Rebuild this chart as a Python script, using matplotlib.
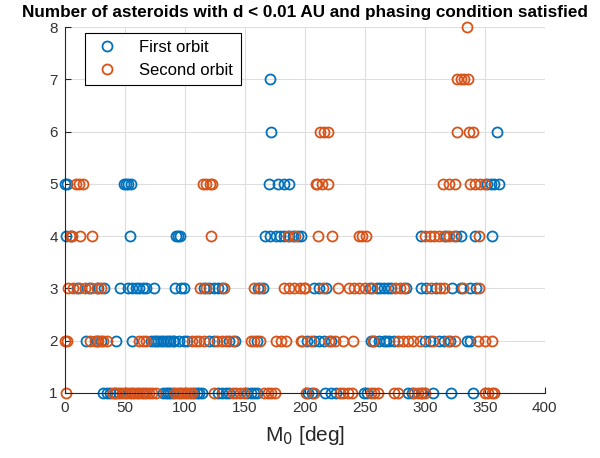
import matplotlib.pyplot as plt
import numpy as np

plt.rcParams['font.family'] = ['Liberation Sans', 'DejaVu Sans']

# M0 values (deg) for each asteroid count, first orbit
first_orbit = {
    1: [32, 35, 38, 42, 45, 82, 84, 86, 88, 90, 108, 110, 112, 114, 128, 131, 134, 137,
        152, 155, 158, 160, 203, 206, 217, 222, 226, 249, 252, 286, 289, 298, 307, 322, 340],
    2: [18, 27, 30, 43, 56, 72, 74, 76, 78, 80, 82, 84, 86, 88, 90, 91, 95, 99, 102,
        120, 124, 137, 142, 160, 202, 208, 212, 216, 222, 255, 258, 262, 266, 268, 270,
        274, 300, 304, 312, 316, 321, 335, 338],
    3: [10, 20, 28, 33, 46, 53, 56, 59, 62, 65, 68, 74, 92, 97, 99, 116, 120, 124, 128,
        131, 161, 165, 208, 212, 218, 254, 260, 263, 266, 269, 272, 284, 297, 301, 309,
        323, 330, 338, 343],
    4: [1, 5, 54, 93, 94, 96, 167, 171, 176, 179, 183, 187, 190, 194, 197, 297, 318,
        326, 330, 342, 356],
    5: [0, 2, 49, 51, 53, 55, 170, 178, 183, 187, 352, 355, 358, 362],
    6: [172, 360],
    7: [171],
    8: [],
}

# M0 values (deg) for each asteroid count, second orbit
second_orbit = {
    1: [1, 40, 43, 48, 50, 52, 54, 56, 58, 60, 62, 64, 66, 68, 70, 73, 76, 92, 94, 96,
        98, 100, 102, 104, 106, 124, 140, 143, 146, 149, 166, 169, 172, 175, 201, 208,
        229, 232, 236, 239, 255, 258, 261, 274, 278, 291, 294, 297, 300, 350, 353, 356, 358],
    2: [0.5, 2, 21, 25, 28, 32, 35, 62, 65, 68, 106, 109, 112, 116, 127, 131, 134, 140,
        155, 158, 163, 176, 180, 184, 197, 198, 205, 220, 225, 232, 240, 257, 278, 282,
        286, 290, 296, 307, 319, 325, 344, 350, 356],
    3: [3, 7, 12, 17, 22, 27, 30, 113, 118, 133, 158, 163, 183, 187, 191, 196, 199, 200,
        215, 228, 237, 241, 245, 250, 256, 275, 279, 283, 305, 313, 316, 332, 345],
    4: [4, 6, 13, 23, 122, 186, 192, 211, 223, 245, 248, 251, 300, 304, 308, 312, 316,
        320, 324, 345],
    5: [9, 12, 15, 115, 118, 121, 123, 209, 210, 214, 219, 315, 320, 325, 338, 342, 346, 350],
    6: [213, 216, 219, 327, 337, 340],
    7: [327, 330, 333, 336],
    8: [335],
}

xticks = np.arange(0, 401, 50)
yticks = np.arange(1, 9)

blue = '#0072BD'
orange = '#D95319'
axis_gray = '#262626'


def flatten(d):
    xs, ys = [], []
    for n, vals in d.items():
        xs += vals
        ys += [n] * len(vals)
    return np.array(xs), np.array(ys)


fig = plt.figure(figsize=(6, 4.58), dpi=100)
ax = fig.add_axes([0.108, 0.142, 0.8, 0.799])

x1, y1 = flatten(first_orbit)
x2, y2 = flatten(second_orbit)
ax.plot(x1, y1, 'o', mfc='none', mec=blue, ms=7.2, mew=1.3, ls='none',
        label='First orbit', clip_on=False, zorder=3)
ax.plot(x2, y2, 'o', mfc='none', mec=orange, ms=7.2, mew=1.3, ls='none',
        label='Second orbit', clip_on=False, zorder=3)

ax.set_xlim(0, 400)
ax.set_ylim(1, 8)
ax.set_xticks(xticks)
ax.set_yticks(yticks)
ax.grid(True, color='#dedede', linewidth=0.8)
ax.set_axisbelow(True)

for s in ['top', 'right']:
    ax.spines[s].set_visible(False)
for s in ['left', 'bottom']:
    ax.spines[s].set_color(axis_gray)
    ax.spines[s].set_linewidth(0.8)
    ax.spines[s].set_zorder(4)
ax.tick_params(direction='in', length=4, width=0.8, colors=axis_gray,
               labelsize=11, labelcolor='#333333', top=False, right=False)
ax.tick_params(axis='x', pad=6)
ax.tick_params(axis='y', pad=5)

ax.set_xlabel('M$_0$ [deg]', fontsize=15, color=axis_gray, labelpad=6)
ax.set_title('Number of asteroids with d < 0.01 AU and phasing condition satisfied',
             fontsize=12.3, fontweight='bold', pad=7)

leg = ax.legend(loc='upper left', bbox_to_anchor=(0.042, 0.985), fontsize=12,
                fancybox=False, framealpha=1, edgecolor='black', borderpad=0.45,
                handletextpad=1.0, handlelength=1.8, labelspacing=0.45,
                borderaxespad=0)
leg.get_frame().set_linewidth(0.8)

fig.savefig('out.png', dpi=100)
